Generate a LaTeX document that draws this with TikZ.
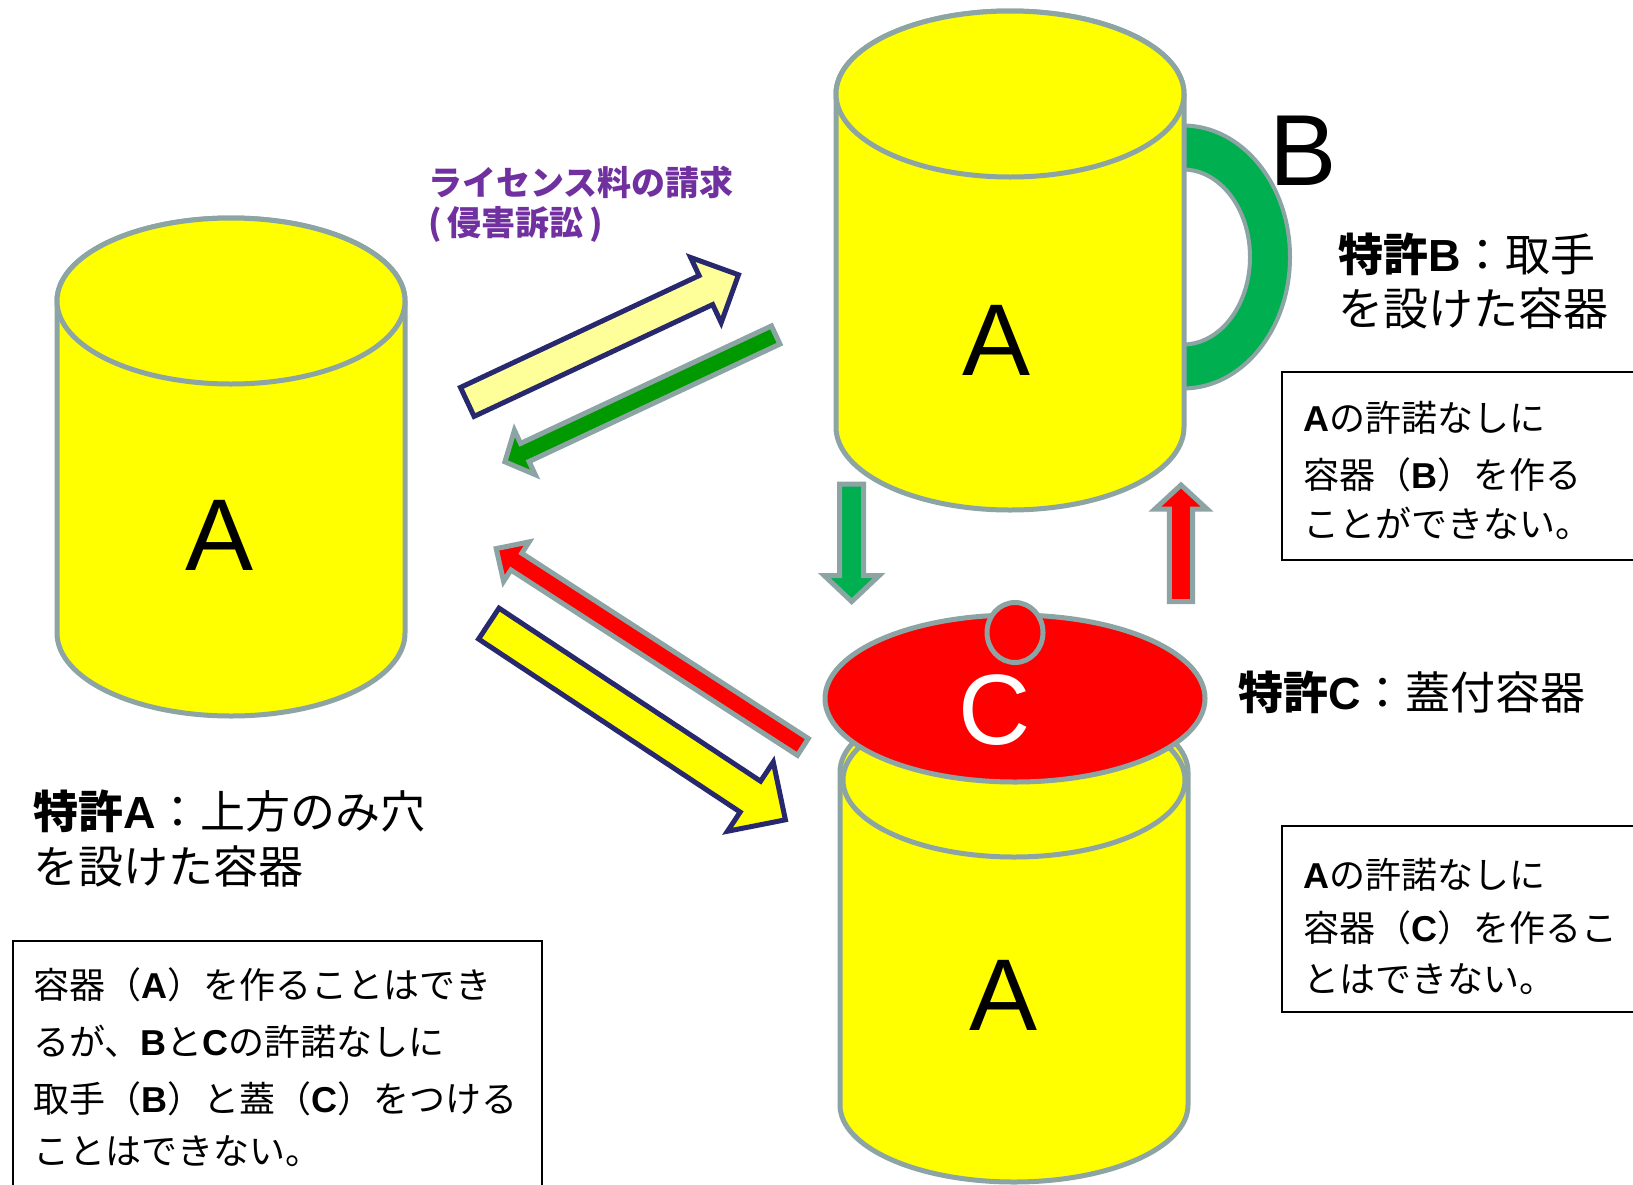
\documentclass[tikz,border=0pt]{standalone}
\usepackage{fontspec}
\setmainfont{Noto Sans CJK JP}
\newfontfamily\arialf{Liberation Sans}
\usetikzlibrary{calc}

\definecolor{cylY}{RGB}{255,255,0}
\definecolor{edgeG}{RGB}{140,164,164}
\definecolor{handleG}{RGB}{0,176,80}
\definecolor{diagG}{RGB}{0,153,0}
\definecolor{lidR}{RGB}{255,0,0}
\definecolor{paleY}{RGB}{255,255,153}
\definecolor{navyE}{RGB}{40,40,110}
\definecolor{purp}{RGB}{112,48,160}

% bold Latin letter inside Japanese text
\newcommand\LatB[1]{{\arialf\bfseries #1}}

% cylinder body: #1 cx, #2 top cy, #3 bottom cy, #4 rx, #5 ry
\newcommand\cylbody[5]{%
  \filldraw[cyl] (#1-#4,#2) -- (#1-#4,#3)
    arc[start angle=180, end angle=0, x radius=#4, y radius=#5]
    -- (#1+#4,#2)
    arc[start angle=0, end angle=-180, x radius=#4, y radius=#5] -- cycle;}
% cylinder top: #1 cx, #2 cy, #3 rx, #4 ry
\newcommand\cyltop[4]{%
  \filldraw[cyl] (#1,#2) ellipse[x radius=#3, y radius=#4];}

% block arrow: #1 style, #2 tail, #3 tip, #4 half shaft, #5 half head, #6 head length, #7 head-base name
\newcommand\blockarrow[7]{%
  \coordinate (#7) at ($(#3)!#6pt!(#2)$);
  \filldraw[#1] ($(#2)!#4pt!90:(#3)$) -- ($(#7)!#4pt!90:(#3)$)
    -- ($(#7)!#5pt!90:(#3)$) -- (#3) -- ($(#7)!#5pt!-90:(#3)$)
    -- ($(#7)!#4pt!-90:(#3)$) -- ($(#2)!#4pt!-90:(#3)$) -- cycle;}

\begin{document}
\begin{tikzpicture}[x=1pt,y=-1pt,
  edge/.style={draw=edgeG, line width=5pt},
  cyl/.style={edge, fill=cylY},
  boxline/.style={draw=black, line width=2pt},
  t45/.style={inner sep=0pt, anchor=base west, font=\fontsize{45}{50}\selectfont},
  t36/.style={inner sep=0pt, anchor=base west, font=\fontsize{36}{40}\selectfont},
  tpurple/.style={inner sep=0pt, anchor=base west, text=purp, font=\fontsize{34}{38}\selectfont\bfseries},
  big/.style={inner sep=0pt, font=\arialf\fontsize{102}{102}\selectfont},
  navyarrow/.style={draw=navyE, line width=5pt},
  grayarrow/.style={draw=edgeG, line width=5pt},
]
\useasboundingbox (0,0) rectangle (1633,1184);
\fill[white] (0,0) rectangle (1633,1184);
\clip (0,0) rectangle (1633,1184);

% handle of container B (behind the body)
\filldraw[draw=edgeG, line width=4pt, fill=handleG]
  (1183,125.5) arc[start angle=-90, end angle=90, x radius=107, y radius=131.5]
  -- (1183,344.5) arc[start angle=90, end angle=-90, x radius=67, y radius=87.5] -- cycle;

% container B (top)
\cylbody{1010}{94}{427}{174}{83}
\cyltop{1010}{94}{174}{83}
% container A (left)
\cylbody{231}{301}{633}{174}{83}
\cyltop{231}{301}{174}{83}
% container C (bottom) with lid
\cylbody{1014}{772}{1105}{174}{77}
\cyltop{1014}{780}{171}{77}
\filldraw[edge, fill=lidR] (1015,698.5) ellipse[x radius=190, y radius=83.5];
\filldraw[edge, fill=lidR] (1015,632.5) ellipse[x radius=28, y radius=30];

% letters on the containers
\node[big] (cA) at (220,535) {A};
\node[big] (cB) at (997,340) {A};
\node[big] (cC) at (1004,995) {A};
\node[big, font=\arialf\fontsize{101}{101}\selectfont] (hB) at (1303,151) {B};
\node[big, text=white, font=\arialf\fontsize{100}{100}\selectfont] (lC) at (995,710) {C};

% arrow end points
\coordinate (a1t) at (467.3,401.9);  \coordinate (a1p) at (738.5,274.8);
\coordinate (a2t) at (775.7,335);    \coordinate (a2p) at (504.9,461.8);
\coordinate (a3t) at (802.9,746.9);  \coordinate (a3p) at (496.2,548.6);
\coordinate (a4t) at (488.8,623.6);  \coordinate (a4p) at (785.4,819.8);
\coordinate (a5t) at (851.7,484.2);  \coordinate (a5p) at (851.7,601.5);
\coordinate (a6t) at (1181,601.5);   \coordinate (a6p) at (1181,485);

\blockarrow{navyarrow, fill=paleY}{a1t}{a1p}{16}{36}{36}{a1h}
\blockarrow{grayarrow, fill=diagG}{a2t}{a2p}{10}{24.5}{22}{a2h}
\blockarrow{grayarrow, fill=lidR}{a3t}{a3p}{10}{23.5}{24}{a3h}
\blockarrow{navyarrow, fill=cylY}{a4t}{a4p}{18.5}{41.5}{42}{a4h}
\blockarrow{grayarrow, fill=handleG}{a5t}{a5p}{12}{27.5}{26}{a5h}
\blockarrow{grayarrow, fill=lidR}{a6t}{a6p}{11.7}{26}{24}{a6h}

% claim request label
\node[tpurple] (req1) at (428,195) {ライセンス料の請求};
\node[tpurple] (req2) at (428,235) {(\kern6pt侵害訴訟\kern6pt)};

% patent labels
\node[t45] (pA1) at (33,828) {\textbf{特許\LatB{A}}：上方のみ穴};
\node[t45] (pA2) at (33,883) {を設けた容器};
\node[t45] (pB1) at (1338,271) {\textbf{特許\LatB{B}}：取手};
\node[t45] (pB2) at (1338,325) {を設けた容器};
\node[t45] (pC1) at (1238,709) {\textbf{特許\LatB{C}}：蓋付容器};

% explanation boxes
\draw[boxline] (12.5,940.5) rectangle (541.6,1200);
\node[t36] (xA1) at (33,998) {容器（\LatB{A}）を作ることはでき};
\node[t36] (xA2) at (33,1055) {るが、\LatB{B}と\LatB{C}の許諾なしに};
\node[t36] (xA3) at (33,1112) {取手（\LatB{B}）と蓋（\LatB{C}）をつける};
\node[t36] (xA4) at (33,1164) {ことはできない。};

\draw[boxline] (1281.5,372) rectangle (1650,559.5);
\node[t36] (xB1) at (1303,431) {\LatB{A}の許諾なしに};
\node[t36] (xB2) at (1303,488) {容器（\LatB{B}）を作る};
\node[t36] (xB3) at (1303,537) {ことができない。};

\draw[boxline] (1281.5,826) rectangle (1650,1011.5);
\node[t36] (xC1) at (1303,888) {\LatB{A}の許諾なしに};
\node[t36] (xC2) at (1303,941) {容器（\LatB{C}）を作るこ};
\node[t36] (xC3) at (1303,992) {とはできない。};
\end{tikzpicture}
\end{document}
